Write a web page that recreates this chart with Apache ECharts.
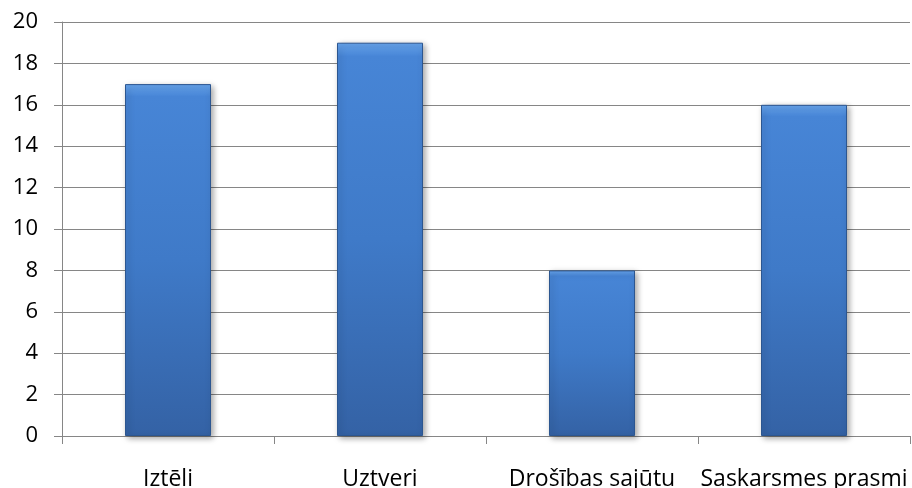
<!DOCTYPE html>
<html><head><meta charset="utf-8">
<script src="https://cdn.jsdelivr.net/npm/echarts@6/dist/echarts.min.js"></script>
<style>html,body{margin:0;padding:0;background:#fff}#c{width:912px;height:488px}</style>
</head><body><div id="c"></div>
<script>
const categories = ['Iztēli', 'Uztveri', 'Drošības sajūtu', 'Saskarsmes prasmi'];
const values = [17, 19, 8, 16];
const yTicks = {min: 0, max: 20, interval: 2};

const chart = echarts.init(document.getElementById('c'), null, {renderer: 'canvas'});
const font = '"Open Sans", sans-serif';
chart.setOption({
  animation: false,
  grid: {left: 62, right: 2, top: 22, bottom: 52, containLabel: false, outerBoundsMode: 'none'},
  xAxis: {
    type: 'category', data: categories,
    axisLine: {lineStyle: {color: '#868686', width: 1}},
    axisTick: {show: true, length: 8, alignWithLabel: false, lineStyle: {color: '#868686'}},
    axisLabel: {margin: 32, color: '#000', fontSize: 23, fontFamily: font, interval: 0},
  },
  yAxis: {
    type: 'value', min: yTicks.min, max: yTicks.max, interval: yTicks.interval,
    axisLine: {show: true, lineStyle: {color: '#868686', width: 1}},
    axisTick: {show: true, length: 8, lineStyle: {color: '#868686'}},
    splitLine: {lineStyle: {color: '#868686', width: 1}},
    axisLabel: {margin: 24, color: '#000', fontSize: 22, fontFamily: font},
  },
  series: [{
    type: 'bar', data: values, barWidth: 86,
    itemStyle: {
      color: {type: 'linear', x: 0, y: 0, x2: 0, y2: 1, colorStops: [
        {offset: 0, color: '#68a6ee'},
        {offset: 0.035, color: '#4785d6'},
        {offset: 0.5, color: '#3f7ac8'},
        {offset: 1, color: '#3462a5'}
      ]},
      borderColor: '#2c5690', borderWidth: 1,
      shadowColor: 'rgba(0,0,0,0.35)', shadowBlur: 6, shadowOffsetX: 2, shadowOffsetY: 2
    }
  }]
});
</script></body></html>
